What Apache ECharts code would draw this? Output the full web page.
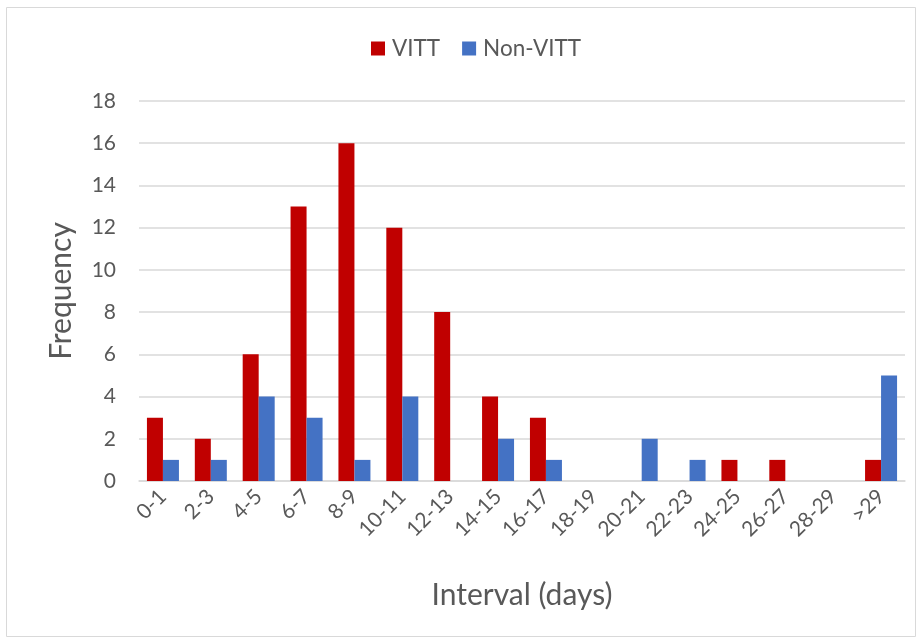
<!DOCTYPE html>
<html><head><meta charset="utf-8">
<script src="https://cdn.jsdelivr.net/npm/echarts@6/dist/echarts.min.js"></script>
<style>html,body{margin:0;padding:0;background:#fff}#c{width:922px;height:642px}</style>
</head><body><div id="c"></div>
<script>
const categories = ["0-1","2-3","4-5","6-7","8-9","10-11","12-13","14-15","16-17","18-19","20-21","22-23","24-25","26-27","28-29",">29"];
const vitt = [3,2,6,13,16,12,8,4,3,0,0,0,1,1,0,1];
const nonVitt = [1,1,4,3,1,4,0,2,1,0,2,1,0,0,0,5];
const yTicks = {min:0, max:18, interval:2};
const font = "Lato, 'Open Sans', sans-serif";
const chart = echarts.init(document.getElementById('c'));
chart.setOption({
  animation:false,
  textStyle:{fontFamily:font},
  graphic:[{type:'rect',shape:{x:6.5,y:7.5,width:909,height:629},style:{fill:'none',stroke:'#d9d9d9',lineWidth:1}}],
  legend:{top:32,left:366,itemWidth:14,itemHeight:14,itemGap:22,icon:'rect',
    textStyle:{fontSize:22.5,color:'#595959',fontFamily:font,padding:[0,0,0,2]},data:['VITT','Non-VITT']},
  grid:{left:139,right:17,top:101,bottom:161},
  xAxis:{type:'category',data:categories,
    axisLine:{lineStyle:{color:'#d9d9d9',width:1.5}},axisTick:{show:false},
    axisLabel:{rotate:45,fontSize:21,color:'#595959',margin:12,interval:0,fontFamily:font},
    name:'Interval (days)',nameLocation:'middle',nameGap:99,
    nameTextStyle:{fontSize:30,color:'#595959',fontFamily:font}},
  yAxis:{type:'value',min:yTicks.min,max:yTicks.max,interval:yTicks.interval,
    axisLine:{show:false},axisTick:{show:false},
    splitLine:{lineStyle:{color:'#d9d9d9',width:1.5}},
    axisLabel:{fontSize:21,color:'#595959',margin:23,fontFamily:font},
    name:'Frequency',nameLocation:'middle',nameGap:63,
    nameTextStyle:{fontSize:30,color:'#595959',fontFamily:font}},
  series:[
    {name:'VITT',type:'bar',data:vitt,barWidth:16,barGap:'0%',itemStyle:{color:'#C00000'}},
    {name:'Non-VITT',type:'bar',data:nonVitt,barWidth:16,barGap:'0%',itemStyle:{color:'#4472C4'}}
  ]
});
</script></body></html>
